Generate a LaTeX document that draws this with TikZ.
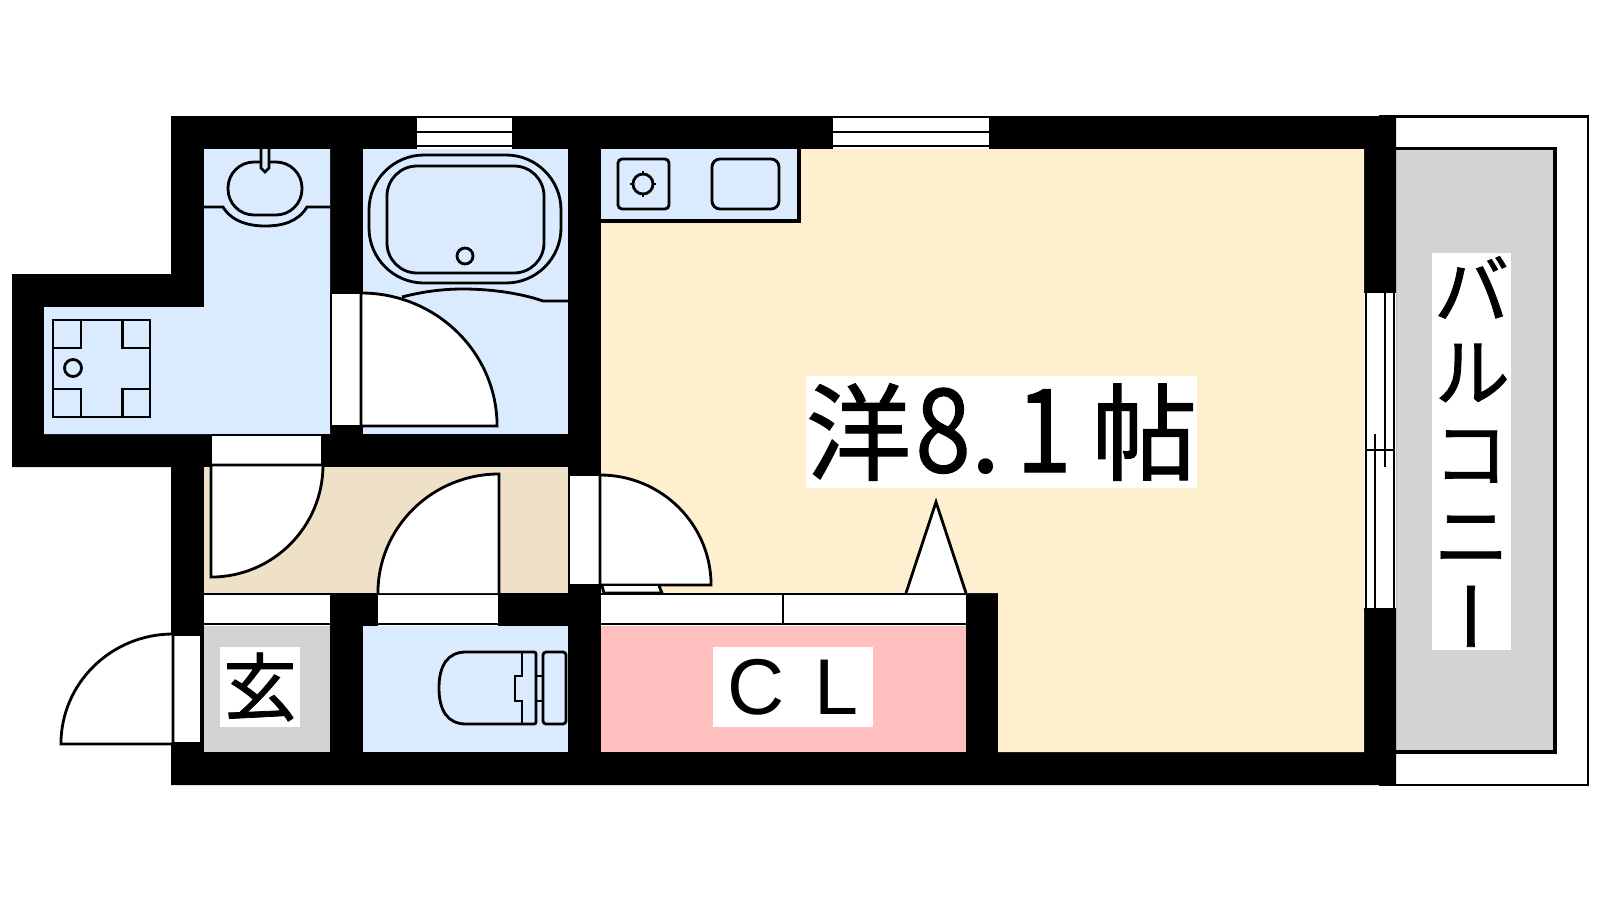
\documentclass[tikz,border=0pt]{standalone}
\usepackage{fontspec}
\newfontfamily\jpfont{Noto Sans CJK JP}[FakeBold=1]
\newfontfamily\jpvert{Noto Sans CJK JP}[RawFeature={+vert}, FakeBold=1]
\setsansfont{Liberation Sans}
\definecolor{wetblue}{HTML}{DBEBFF}
\definecolor{roomcream}{HTML}{FEF0CF}
\definecolor{hallbeige}{HTML}{EFE0C8}
\definecolor{closetpink}{HTML}{FFBFBF}
\definecolor{floorgray}{HTML}{D3D3D3}
\begin{document}
\begin{tikzpicture}
  [x=0.01cm, y=-0.01cm,
   wall/.style={fill=black},
   opening/.style={fill=white},
   edge/.style={line width=0.8pt},
   fixture/.style={draw=black, line width=0.8pt},
   leaf/.style={draw=black, fill=white, line width=0.8pt},
   sign/.style={fill=white, inner sep=0pt, text=black}]
  \useasboundingbox (0, 0) rectangle (1600, 900);
  % balcony
  \draw [edge, fill=white] (1380, 116.5) rectangle (1588, 785);
  \fill [floorgray] (1390, 149) rectangle (1555, 752);
  \draw [line width=0.9pt] (1390, 148.5) -- (1555, 148.5) -- (1555, 752) -- (1390, 752);
  % walls
  \fill [wall] (171, 116) -- (1396, 116) -- (1396, 785) -- (171, 785) -- (171, 467)
    -- (12, 467) -- (12, 274) -- (171, 274) -- cycle;
  % rooms
  \fill [wetblue] (204, 149) -- (330, 149) -- (330, 434) -- (44, 434) -- (44, 307) -- (204, 307) -- cycle;
  \fill [wetblue] (363, 149) rectangle (568, 434);
  \fill [roomcream] (601, 149) -- (1364, 149) -- (1364, 752) -- (998, 752) -- (998, 593) -- (601, 593) -- cycle;
  \fill [hallbeige] (204, 467) rectangle (568, 593);
  \fill [floorgray] (204, 626) rectangle (330, 752);
  \fill [wetblue] (363, 626) rectangle (568, 752);
  \fill [closetpink] (601, 626) rectangle (966, 752);
  % windows
  \foreach \xa/\xb in {417/512, 833/989}{
    \fill [opening] (\xa, 117) rectangle (\xb, 149);
    \foreach \y in {117, 132, 146}
      \draw [edge] (\xa, \y) -- (\xb, \y);
  }
  \fill [opening] (1364, 293) rectangle (1396, 609);
  \draw [edge] (1366, 293) -- (1366, 609);
  \draw [edge] (1375, 434) -- (1375, 609);
  \draw [edge] (1385, 293) -- (1385, 467);
  \draw [edge] (1394, 293) -- (1394, 609);
  \draw [edge] (1366, 450) -- (1394, 450);
  \draw [edge] (1364, 609) -- (1396, 609);
  % door openings
  \foreach \xa/\xb in {204/330, 378/498}{
    \fill [opening] (\xa, 593) rectangle (\xb, 626);
    \draw [edge] (\xa, 594) -- (\xb, 594);
    \draw [edge] (\xa, 624) -- (\xb, 624);
  }
  \draw [leaf] (331, 293) rectangle (361, 426);
  \fill [opening] (212, 434) rectangle (321, 466);
  \draw [edge] (212, 435) -- (330, 435);
  \draw [leaf] (569, 475) rectangle (600, 585);
  \draw [leaf] (173, 635) rectangle (201, 743);
  % door leaves
  \draw [leaf] (361, 426) -- (361, 293) arc [start angle=90, end angle=0, x radius=1.36cm, y radius=1.33cm] -- cycle;
  \draw [leaf] (211, 465) -- (323, 465) arc [start angle=0, end angle=-90, x radius=1.12cm, y radius=1.12cm] -- cycle;
  \draw [leaf] (499, 593) -- (499, 474) arc [start angle=90, end angle=180, x radius=1.21cm, y radius=1.19cm];
  \draw [leaf] (600, 585) -- (600, 475) arc [start angle=90, end angle=0, x radius=1.11cm, y radius=1.10cm] -- cycle;
  \draw [leaf] (173, 744) -- (173, 634) arc [start angle=90, end angle=180, x radius=1.12cm, y radius=1.10cm] -- cycle;
  \draw [leaf] (602, 586) -- (604, 593) -- (662, 593) -- (659, 586);
  % closet
  \fill [opening] (601, 593) rectangle (966, 626);
  \draw [edge] (601, 594) -- (966, 594);
  \draw [edge] (601, 624) -- (966, 624);
  \draw [edge] (783, 594) -- (783, 624);
  \draw [leaf] (906, 593) -- (936, 502) -- (966, 593);
  % basin
  \draw [fixture] (204, 207) -- (223, 207) .. controls (232, 222) and (250, 226) .. (265, 226)
    .. controls (282, 226) and (298, 222) .. (307, 207) -- (330, 207);
  \draw [fixture, rounded corners=0.26cm] (228, 162) rectangle (302, 215);
  \draw [fixture, fill=wetblue] (261, 149) -- (261, 168) -- (265, 172) -- (269, 168) -- (269, 149);
  % bath
  \draw [fixture, rounded corners=0.55cm] (369, 155) rectangle (561, 283);
  \draw [fixture, rounded corners=0.3cm] (387, 166) rectangle (544, 273);
  \draw [fixture] (465, 256) circle [radius=0.08cm];
  \draw [fixture] (402, 297) .. controls (425, 291) and (445, 289) .. (463, 289)
    .. controls (490, 289) and (520, 293) .. (543, 301) -- (568, 301);
  % washing pan
  \draw [fixture] (53, 320) rectangle (150, 417);
  \foreach \xa/\xb in {53/81, 122.5/150}{
    \draw [fixture] (\xa, 320) rectangle (\xb, 348);
    \draw [fixture] (\xa, 389) rectangle (\xb, 417);
  }
  \draw [fixture] (73, 368) circle [radius=0.085cm];
  % kitchen
  \fill [wetblue] (601, 149) rectangle (798, 220);
  \draw [line width=0.9pt] (799, 149) -- (799, 221) -- (601, 221);
  \draw [fixture, rounded corners=0.04cm] (618, 159) rectangle (669, 209);
  \draw [fixture, rounded corners=0.08cm] (712, 159) rectangle (779, 209);
  \draw [fixture] (643, 184) circle [radius=0.1cm];
  \foreach \a in {0, 90, 180, 270}
    \draw [fixture] (643, 184) ++(\a:0.09cm) -- ++(\a:0.04cm);
  % toilet
  \draw [fixture] (522, 652) -- (466, 652) .. controls (448, 652) and (439, 665) .. (439, 688)
    .. controls (439, 711) and (448, 724) .. (466, 724) -- (522, 724);
  \draw [fixture, rounded corners=0.02cm] (522, 652) -- (536, 652) -- (536, 724) -- (522, 724);
  \draw [fixture] (522, 652) -- (522, 676) -- (515, 676) -- (515, 701) -- (522, 701) -- (522, 724);
  \draw [fixture, rounded corners=0.03cm] (543, 652) rectangle (566, 724);
  \draw [fixture] (536, 676) -- (543, 676);
  \draw [fixture] (536, 701) -- (543, 701);
  % labels
  \node (room) at (1001.5, 432) [sign, minimum width=3.89cm, minimum height=1.12cm,
    font=\jpfont\fontsize{30}{30}\selectfont]
    {洋\hspace{1.1pt}\scalebox{0.95}[1.1]{8}.\hspace{4.5pt}\scalebox{0.95}[1.1]{1}\hspace{5.7pt}帖};
  \node (closet) at (793, 687) [sign, minimum width=1.6cm, minimum height=0.8cm,
    font=\sffamily\fontsize{22.5}{22.5}\selectfont] {C\hspace{2pt} L};
  \node (entry) at (260, 687) [sign, minimum width=0.8cm, minimum height=0.8cm,
    font=\jpfont\fontsize{21}{21}\selectfont] {玄};
  \node (balcony) at (1471.5, 451.5) [sign, minimum width=0.79cm, minimum height=3.97cm,
    align=center, font=\jpvert\fontsize{22}{23.3}\selectfont] {バ\\ル\\コ\\ニ\\ー};
\end{tikzpicture}
\end{document}
